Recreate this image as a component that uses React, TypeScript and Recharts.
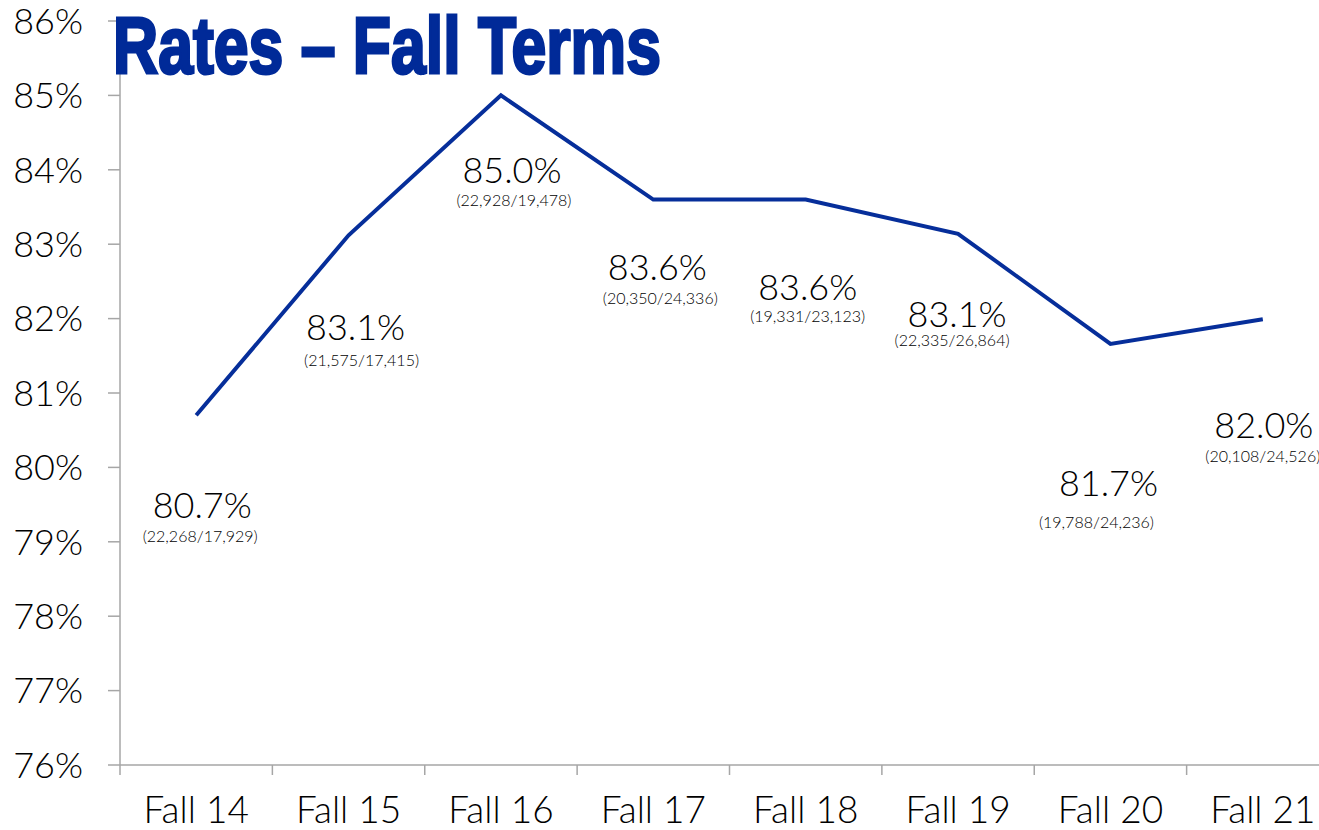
import React from 'react';
import { LineChart, Line, XAxis, YAxis, LabelList } from 'recharts';

const terms = ['Fall 14', 'Fall 15', 'Fall 16', 'Fall 17', 'Fall 18', 'Fall 19', 'Fall 20', 'Fall 21'];
const rates = [80.7, 83.12, 85.0, 83.6, 83.6, 83.14, 81.66, 81.99];
const numerators = [22268, 21575, 22928, 20350, 19331, 22335, 19788, 20108];
const denominators = [17929, 17415, 19478, 24336, 23123, 26864, 24236, 24526];
const yTicks = [76, 77, 78, 79, 80, 81, 82, 83, 84, 85, 86];
const titleText = 'Rates – Fall Terms';

// label placement relative to each point: [mainDx, mainDy, subDx, subDy]
const labelOffsets = [
  [6, 103, 4, 127],
  [7, 105, 13, 131],
  [11, 88, 13, 111],
  [4, 80, 7, 104],
  [2, 100, 2, 122],
  [-1, 93, -6, 112],
  [-2, 152, -14, 184],
  [1, 119, 0, 143],
];

const data = terms.map((t, i) => ({ term: t, rate: rates[i] }));

const FONT = "Lato, 'Noto Sans', sans-serif";
const LINE_COLOR = '#062E9A';
const TITLE_COLOR = '#002A98';
const AXIS_COLOR = '#A6A6A6';

const fmt = (n: number) => n.toLocaleString('en-US');

const XTick = (props: any) => {
  const { x, y, payload } = props;
  const half = payload && typeof payload.offset === 'number' && payload.offset > 0 ? payload.offset : 76.2;
  return (
    <g>
      <line x1={x - half} y1={y} x2={x - half} y2={y + 10} stroke={AXIS_COLOR} strokeWidth={1.5} />
      <text x={x} y={y + 32} dy="0.71em" textAnchor="middle" fontFamily={FONT} fontWeight={300} fontSize={37} fill="#000">
        {payload.value}
      </text>
    </g>
  );
};

const renderLabel = (props: any) => {
  const { x, y, index } = props;
  const off = labelOffsets[index];
  if (!off || x == null || y == null) return null;
  return (
    <g key={`lbl-${index}`}>
      <text x={x + off[0]} y={y + off[1]} textAnchor="middle" fontFamily={FONT} fontWeight={300} fontSize={36} fill="#000">
        {`${rates[index].toFixed(1)}%`}
      </text>
      <text x={x + off[2]} y={y + off[3]} textAnchor="middle" fontFamily={FONT} fontWeight={300} fontSize={16} fill="#000">
        {`(${fmt(numerators[index])}/${fmt(denominators[index])})`}
      </text>
    </g>
  );
};

export default function App() {
  return (
    <div style={{ position: 'absolute', left: 0, top: 0, width: 1319, height: 830, overflow: 'hidden', background: '#fff' }}>
      <LineChart width={1345} height={830} data={data} margin={{ top: 21, right: 6, bottom: 0, left: 0 }}>
        <XAxis
          dataKey="term"
          scale="band"
          height={65}
          tickLine={false}
          tickSize={0}
          tickMargin={0}
          axisLine={{ stroke: AXIS_COLOR, strokeWidth: 1.5 }}
          tick={<XTick />}
          interval={0}
        />
        <YAxis
          domain={[76, 86]}
          ticks={yTicks}
          width={120}
          interval={0}
          tickSize={12}
          tickMargin={25}
          tickFormatter={(v: number) => `${v}%`}
          axisLine={{ stroke: AXIS_COLOR, strokeWidth: 1.5 }}
          tickLine={{ stroke: AXIS_COLOR, strokeWidth: 1.5 }}
          tick={{ fontFamily: FONT, fontWeight: 300, fontSize: 36, fill: '#000' }}
        />
        <Line
          type="linear"
          dataKey="rate"
          stroke={LINE_COLOR}
          strokeWidth={4}
          dot={false}
          activeDot={false}
          isAnimationActive={false}
        >
          <LabelList dataKey="rate" content={renderLabel} />
        </Line>
      </LineChart>
      <svg width={1319} height={110} style={{ position: 'absolute', left: 0, top: 0, pointerEvents: 'none' }}>
        <text
          x={113}
          y={73}
          textLength={548}
          lengthAdjust="spacingAndGlyphs"
          fontFamily="'Liberation Sans Narrow', 'Liberation Sans', Arial, sans-serif"
          fontWeight={700}
          fontSize={80}
          fill={TITLE_COLOR}
          stroke={TITLE_COLOR}
          strokeWidth={3}
        >
          {titleText}
        </text>
      </svg>
    </div>
  );
}
